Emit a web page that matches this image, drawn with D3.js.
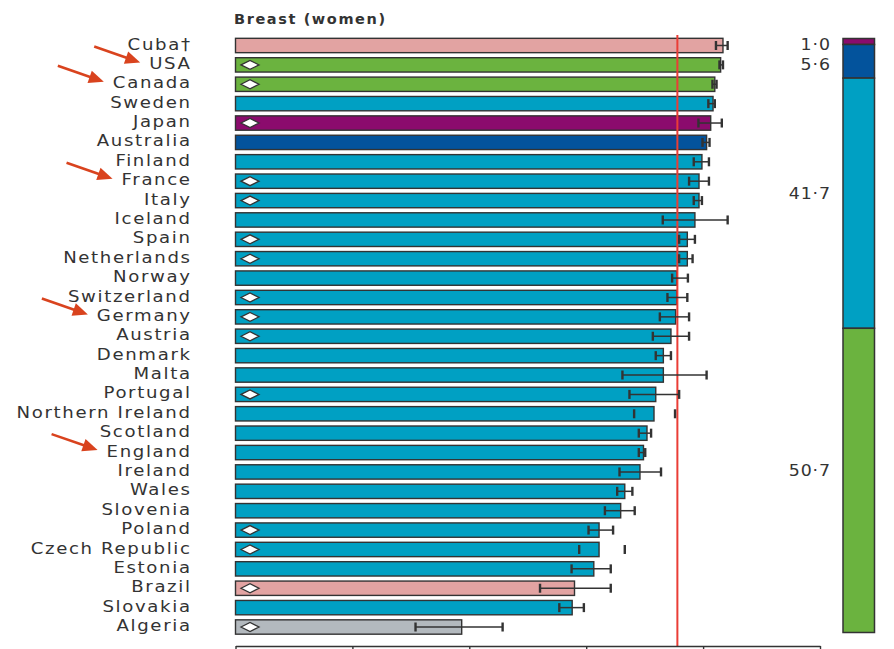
<!DOCTYPE html>
<html>
<head>
<meta charset="utf-8">
<script src="https://cdn.jsdelivr.net/npm/d3@7/dist/d3.min.js"></script>
<style>
  html, body { margin: 0; padding: 0; background: #fff; }
  svg { display: block; }
</style>
</head>
<body>
<svg id="chart" width="894" height="649"></svg>
<script>
// ---------------- DATA ----------------
const countries = ["Cuba†","USA","Canada","Sweden","Japan","Australia","Finland","France","Italy","Iceland","Spain","Netherlands","Norway","Switzerland","Germany","Austria","Denmark","Malta","Portugal","Northern Ireland","Scotland","England","Ireland","Wales","Slovenia","Poland","Czech Republic","Estonia","Brazil","Slovakia","Algeria"];
const survival = [83.4,83.0,82.0,81.7,81.3,80.6,79.8,79.3,79.3,78.6,77.3,77.3,75.5,75.5,75.3,74.5,73.2,73.2,71.9,71.6,70.4,69.8,69.2,66.6,65.9,62.2,62.2,61.3,58.0,57.6,38.7];
const ciLow  = [82.2,82.8,81.6,80.9,79.2,79.9,78.4,77.6,78.4,73.1,75.9,75.9,74.7,73.9,72.6,71.4,71.9,66.2,67.4,68.2,69.0,69.0,65.7,65.3,63.2,60.4,58.8,57.5,52.1,55.4,30.8];
const ciHigh = [84.2,83.4,82.3,82.0,83.2,81.1,81.0,81.0,79.8,84.2,78.6,78.2,77.4,77.3,77.6,77.6,74.5,80.6,75.9,75.2,71.1,70.1,72.8,67.9,68.3,64.6,66.6,64.2,64.2,59.6,45.7];
const regions = ["Central and South America","North America","North America","Europe","Japan","Australia","Europe","Europe","Europe","Europe","Europe","Europe","Europe","Europe","Europe","Europe","Europe","Europe","Europe","Europe","Europe","Europe","Europe","Europe","Europe","Europe","Europe","Europe","Central and South America","Europe","Africa"];
const diamondCountries = ["USA","Canada","Japan","France","Italy","Spain","Netherlands","Switzerland","Germany","Austria","Portugal","Poland","Czech Republic","Brazil","Algeria"];
const capsOnlyCountries = ["Northern Ireland","Czech Republic"];
const arrowCountries = ["USA","Canada","France","Germany","England"];
const referenceValue = 75.6;
const xTicks = [0,20,40,60,80,100];
const title = "Breast (women)";

const shareGroups = ["Japan","Australia","Europe","North America"];
const shareValues = [1.0, 5.6, 41.7, 50.7];
const shareLabels = ["1·0","5·6","41·7","50·7"];

const regionColor = {
  "Central and South America": "#e2a3a2",
  "North America": "#6bb33f",
  "Europe": "#00a0c3",
  "Japan": "#8b0b6d",
  "Australia": "#03539c",
  "Africa": "#b3b9be"
};

// ---------------- LAYOUT ----------------
const svg = d3.select("#chart");
const ink = "#333";

const x = d3.scaleLinear().domain([0, 100]).range([235.5, 820]);
const y = d3.scaleBand().domain(countries).range([35.8, 636.7]).paddingInner(0.26).paddingOuter(0.13);
const rows = countries.map((c, i) => ({c, v: survival[i], lo: ciLow[i], hi: ciHigh[i], r: regions[i]}));

// title
svg.append("text")
  .attr("x", 234).attr("y", 24)
  .attr("font-family", "DejaVu Sans, sans-serif")
  .attr("font-weight", "bold")
  .attr("font-size", 14.5)
  .attr("letter-spacing", "1.6px")
  .attr("fill", ink)
  .text(title);

// bars
svg.append("g").selectAll("rect").data(rows).join("rect")
  .attr("x", x(0))
  .attr("y", d => y(d.c))
  .attr("width", d => x(d.v) - x(0))
  .attr("height", y.bandwidth())
  .attr("fill", d => regionColor[d.r])
  .attr("stroke", ink)
  .attr("stroke-width", 1.4);

// diamonds
svg.append("g").selectAll("path").data(rows.filter(d => diamondCountries.includes(d.c))).join("path")
  .attr("d", d => {
    const cx = x(0) + 14.5, cy = y(d.c) + y.bandwidth() / 2;
    return `M${cx - 9},${cy} L${cx},${cy - 4.5} L${cx + 9},${cy} L${cx},${cy + 4.5} Z`;
  })
  .attr("fill", "#fff")
  .attr("stroke", ink)
  .attr("stroke-width", 1.3);

// reference line
svg.append("line")
  .attr("x1", x(referenceValue)).attr("x2", x(referenceValue))
  .attr("y1", 35).attr("y2", 646)
  .attr("stroke", "#ea3d36")
  .attr("stroke-width", 2);

// error bars
const eg = svg.append("g").attr("stroke", ink);
rows.forEach(d => {
  const cy = y(d.c) + y.bandwidth() / 2;
  if (!capsOnlyCountries.includes(d.c)) {
    eg.append("line").attr("x1", x(d.lo)).attr("x2", x(d.hi)).attr("y1", cy).attr("y2", cy).attr("stroke-width", 1.5);
  }
  [d.lo, d.hi].forEach(v => {
    eg.append("line").attr("x1", x(v)).attr("x2", x(v)).attr("y1", cy - 4.5).attr("y2", cy + 4.5).attr("stroke-width", 2.4);
  });
});

// x axis
const axis = d3.axisBottom(x).tickValues(xTicks).tickFormat("").tickSize(7).tickSizeOuter(0);
const ag = svg.append("g").attr("transform", "translate(0,646)").call(axis);
ag.selectAll("path, line").attr("stroke", ink).attr("stroke-width", 1.4);

// country labels (horizontally widened glyphs)
const ls = 1.4, sx = 1.17;
const labels = svg.append("g").selectAll("text").data(rows).join("text")
  .attr("transform", d => `translate(${190 + ls * sx},${y(d.c) + y.bandwidth() / 2 - 1.5}) scale(${sx},1)`)
  .attr("dy", "0.36em")
  .attr("text-anchor", "end")
  .attr("font-family", "DejaVu Sans, sans-serif")
  .attr("font-size", 15.5)
  .attr("letter-spacing", ls + "px")
  .attr("fill", ink)
  .text(d => d.c);

// arrows
const arrowColor = "#d9431e";
const svgRect = svg.node().getBoundingClientRect();
labels.filter(d => arrowCountries.includes(d.c)).each(function(d) {
  const bb = this.getBoundingClientRect();
  const tipX = bb.left - svgRect.left - 9, tipY = bb.top - svgRect.top + bb.height / 2 - 1;
  const dx = 46, dy = 16;
  const len = Math.hypot(dx, dy), ux = dx / len, uy = dy / len;
  const headL = 15, headW = 6.5;
  const bx = tipX - ux * headL, by = tipY - uy * headL;
  svg.append("line")
    .attr("x1", tipX - dx).attr("y1", tipY - dy)
    .attr("x2", bx + ux * 2).attr("y2", by + uy * 2)
    .attr("stroke", arrowColor).attr("stroke-width", 2.6);
  svg.append("path")
    .attr("d", `M${tipX},${tipY} L${bx - uy * headW},${by + ux * headW} L${bx + uy * headW},${by - ux * headW} Z`)
    .attr("fill", arrowColor);
});

// stacked share bar
const sy = d3.scaleLinear().domain([0, d3.sum(shareValues)]).range([38.5, 632.5]);
let cum = 0;
const segs = shareValues.map((v, i) => { const s = {g: shareGroups[i], v, lab: shareLabels[i], y0: cum, y1: cum + v}; cum += v; return s; });
svg.append("g").selectAll("rect").data(segs).join("rect")
  .attr("x", 843).attr("width", 31.5)
  .attr("y", d => sy(d.y0))
  .attr("height", d => sy(d.y1) - sy(d.y0))
  .attr("fill", d => regionColor[d.g])
  .attr("stroke", ink)
  .attr("stroke-width", 1.5);

// share labels with simple collision avoidance
let lastY = -Infinity;
segs.forEach(d => {
  let ly = (sy(d.y0) + sy(d.y1)) / 2;
  if (ly < lastY + 20) ly = lastY + 20;
  if (d.v < 3) ly = Math.max(ly, sy(d.y0) + 6);
  if (d.v > 20) ly -= 10;
  lastY = ly;
  d.ly = ly;
});
const sls = 0.8, ssx = 1.12;
svg.append("g").selectAll("text").data(segs).join("text")
  .attr("transform", d => `translate(${830 + sls * ssx},${d.ly}) scale(${ssx},1)`)
  .attr("dy", "0.36em")
  .attr("text-anchor", "end")
  .attr("font-family", "DejaVu Sans, sans-serif")
  .attr("font-size", 15.5)
  .attr("letter-spacing", sls + "px")
  .attr("fill", ink)
  .text(d => d.lab);
</script>
</body>
</html>
